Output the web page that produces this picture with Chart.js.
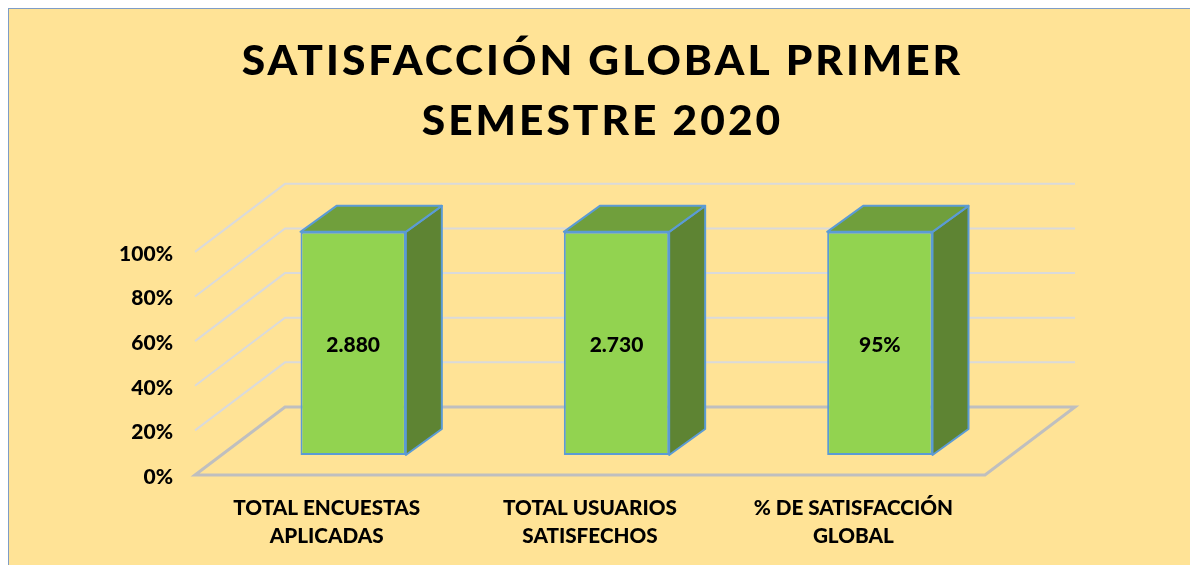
<!DOCTYPE html>
<html lang="es">
<head>
<meta charset="utf-8">
<title>Satisfacción global</title>
<style>
html,body{margin:0;padding:0;background:#fff;width:1190px;height:565px;overflow:hidden}
#panel{position:absolute;left:8px;top:8px;right:0;bottom:0;background:#FFE396;border-left:1px solid #7F9DC6;border-top:1px solid #7F9DC6}
#wrap{position:absolute;left:0;top:0;width:1190px;height:565px}
</style>
<script src="https://cdn.jsdelivr.net/npm/chart.js@4"></script>
</head>
<body>
<div id="panel"></div>
<div id="wrap"><canvas id="c" width="1190" height="565"></canvas></div>
<script>
const categories = [
  ['TOTAL ENCUESTAS', 'APLICADAS'],
  ['TOTAL USUARIOS', 'SATISFECHOS'],
  ['% DE SATISFACCIÓN', 'GLOBAL']
];
const shareValues = [100, 100, 100];
const barLabels = ['2.880', '2.730', '95%'];
const titleLines = ['SATISFACCIÓN GLOBAL PRIMER', 'SEMESTRE 2020'];
const yTicks = [0, 20, 40, 60, 80, 100];

const FONT = 'Lato, "Open Sans", sans-serif';
const wallDepth = {x: 90, y: 68};
const barPlane = {x: 26.5, y: 20};
const barDepth = {x: 36, y: 26};

const threeD = {
  id: 'threeD',
  afterLayout(chart) {
    const t = chart.titleBlock;
    if (t && !t._wrapped) {
      const d = t.draw;
      t.draw = function () {
        const ctx = this.ctx;
        ctx.save();
        ctx.translate(110, 0);
        ctx.letterSpacing = '3px';
        d.call(this);
        ctx.restore();
      };
      t._wrapped = true;
    }
  },
  beforeDatasetsDraw(chart) {
    const {ctx, chartArea: a, scales: {y}} = chart;
    ctx.save();
    ctx.lineCap = 'butt';
    ctx.lineJoin = 'miter';
    yTicks.forEach(v => {
      const p = y.getPixelForValue(v);
      ctx.beginPath();
      ctx.moveTo(a.left, p);
      ctx.lineTo(a.left + wallDepth.x, p - wallDepth.y);
      ctx.lineTo(a.right + wallDepth.x, p - wallDepth.y);
      if (v === 0) {
        ctx.lineTo(a.right, p);
        ctx.closePath();
        ctx.strokeStyle = '#BFBFBF';
        ctx.lineWidth = 3;
      } else {
        ctx.strokeStyle = '#DADADA';
        ctx.lineWidth = 2;
      }
      ctx.stroke();
    });
    ctx.translate(barPlane.x, -barPlane.y);
    ctx.strokeStyle = '#5B9BD5';
    ctx.lineWidth = 2;
    ctx.lineJoin = 'round';
    chart.getDatasetMeta(0).data.forEach(b => {
      const l = b.x - b.width / 2, r = b.x + b.width / 2, top = b.y, bot = b.base;
      ctx.beginPath();
      ctx.moveTo(r, top);
      ctx.lineTo(r + barDepth.x, top - barDepth.y);
      ctx.lineTo(r + barDepth.x, bot - barDepth.y);
      ctx.lineTo(r, bot);
      ctx.closePath();
      ctx.fillStyle = '#5E8433';
      ctx.fill();
      ctx.stroke();
      ctx.beginPath();
      ctx.moveTo(l, top);
      ctx.lineTo(l + barDepth.x, top - barDepth.y);
      ctx.lineTo(r + barDepth.x, top - barDepth.y);
      ctx.lineTo(r, top);
      ctx.closePath();
      ctx.fillStyle = '#709F3C';
      ctx.fill();
      ctx.stroke();
    });
  },
  afterDatasetsDraw(chart) {
    const {ctx} = chart;
    ctx.font = '900 21px ' + FONT;
    ctx.fillStyle = '#000';
    ctx.textAlign = 'center';
    ctx.textBaseline = 'middle';
    chart.getDatasetMeta(0).data.forEach((b, i) => {
      ctx.fillText(barLabels[i], b.x, (b.y + b.base) / 2 + 2);
    });
    ctx.restore();
  }
};

new Chart(document.getElementById('c'), {
  type: 'bar',
  data: {
    labels: categories,
    datasets: [{
      data: shareValues,
      backgroundColor: '#92D350',
      borderColor: '#5B9BD5',
      borderWidth: 2,
      borderSkipped: false,
      barPercentage: 0.4,
      categoryPercentage: 1,
      clip: false
    }]
  },
  plugins: [threeD],
  options: {
    responsive: false,
    animation: false,
    layout: {padding: {left: 0, right: 205, top: 0, bottom: 0}},
    plugins: {
      legend: {display: false},
      tooltip: {enabled: false},
      title: {
        display: true,
        text: titleLines,
        color: '#000',
        font: {family: FONT, size: 42.5, weight: '900', lineHeight: 1.41},
        padding: {top: 31, bottom: 101}
      }
    },
    scales: {
      x: {
        grid: {display: false},
        border: {display: false},
        afterFit(s) { s.height = 90; },
        ticks: {
          color: '#000',
          font: {family: FONT, size: 20.7, weight: '900', lineHeight: 1.36},
          padding: 11,
          maxRotation: 0,
          minRotation: 0,
          autoSkip: false
        }
      },
      y: {
        min: 0,
        max: 100,
        grid: {display: false},
        border: {display: false},
        afterFit(s) { s.width = 195; },
        afterBuildTicks(s) { s.ticks = yTicks.map(value => ({value})); },
        ticks: {
          color: '#000',
          font: {family: FONT, size: 21, weight: '900'},
          padding: 14,
          labelOffset: 2,
          callback: v => v + '%'
        }
      }
    }
  }
});
</script>
</body>
</html>
